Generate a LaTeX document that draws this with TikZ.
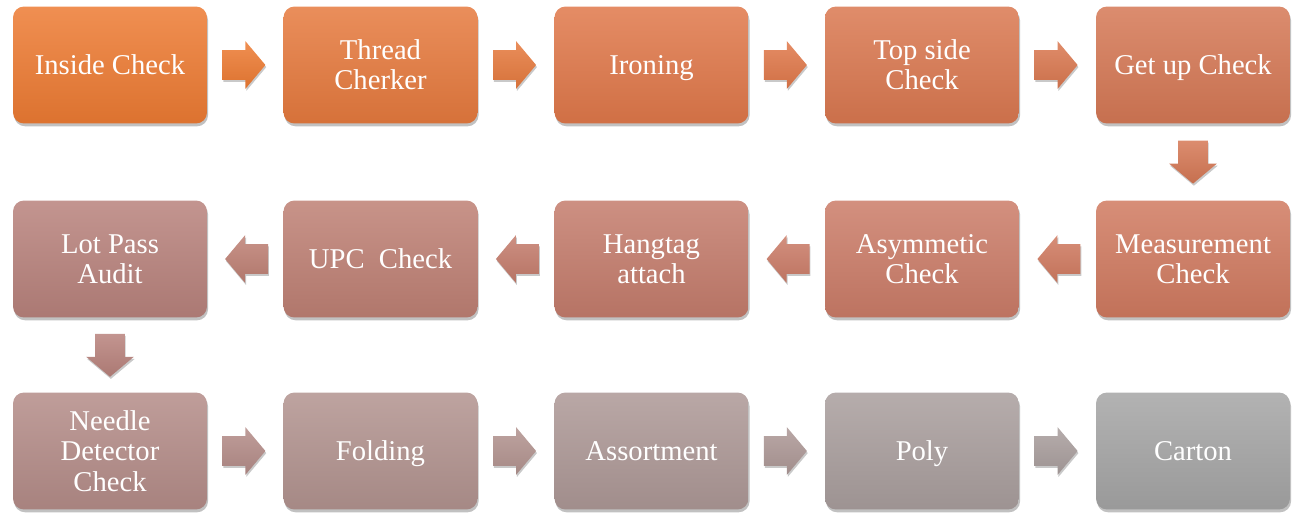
\documentclass[tikz,border=0pt]{standalone}
\usepackage{fontspec}
\setmainfont{Liberation Serif}
\usetikzlibrary{shapes.arrows,shadows,calc}

\definecolor{cInside}{HTML}{ED7B33}
\definecolor{cThread}{HTML}{E67A3E}
\definecolor{cIroning}{HTML}{E0784A}
\definecolor{cTopside}{HTML}{DA7850}
\definecolor{cGetup}{HTML}{D57855}
\definecolor{cMeasure}{HTML}{D07A60}
\definecolor{cAsym}{HTML}{CB7C68}
\definecolor{cHangtag}{HTML}{C47C6C}
\definecolor{cUpc}{HTML}{BE8074}
\definecolor{cLotpass}{HTML}{B8827C}
\definecolor{cNeedle}{HTML}{B48C88}
\definecolor{cFolding}{HTML}{B2938F}
\definecolor{cAssort}{HTML}{AD9896}
\definecolor{cPoly}{HTML}{A99E9D}
\definecolor{cCarton}{HTML}{A5A5A5}

\begin{document}
	\begin{tikzpicture}[
			x=0.02cm, y=-0.02cm,
			stepbox/.style={rectangle, rounded corners=0.22cm, minimum width=3.88cm, minimum height=2.34cm,
				align=center, text=white, font=\fontsize{16.3}{17.2}\selectfont,
				top color=#1!85!white, bottom color=#1!93!black,
				drop shadow={shadow xshift=0.6pt, shadow yshift=-1.6pt, opacity=0.35, fill=black!70}},
			oneline/.style={text height=11.3pt, text depth=0pt},
			flowarrow/.style={single arrow, single arrow head extend=0.18cm, single arrow tip angle=100,
				minimum width=0.94cm, minimum height=0.86cm, inner xsep=0pt, inner ysep=0.29cm,
				top color=#1!85!white, bottom color=#1!93!black,
				drop shadow={shadow xshift=0.5pt, shadow yshift=-1.2pt, opacity=0.3, fill=black!70}},
			toleft/.style={shape border rotate=180},
			todown/.style={shape border rotate=270, inner xsep=0.29cm, inner ysep=0pt}
		]
		\useasboundingbox (0,0) rectangle (1298,514);

		\node[stepbox=cInside, oneline] (inside) at (110,65) {Inside Check};
		\node[stepbox=cThread] (thread) at (380.5,65) {Thread\\Cherker};
		\node[stepbox=cIroning, oneline] (ironing) at (651.5,65) {Ironing};
		\node[stepbox=cTopside] (topside) at (922,65) {Top side\\Check};
		\node[stepbox=cGetup, oneline] (getup) at (1193,65) {Get up Check};

		\node[stepbox=cMeasure] (measure) at (1193,259) {Measurement\\Check};
		\node[stepbox=cAsym] (asym) at (922,259) {Asymmetic\\Check};
		\node[stepbox=cHangtag] (hangtag) at (651.5,259) {Hangtag\\attach};
		\node[stepbox=cUpc, oneline] (upc) at (380.5,259) {UPC\ \ Check};
		\node[stepbox=cLotpass] (lotpass) at (110,259) {Lot Pass\\Audit};

		\node[stepbox=cNeedle] (needle) at (110,451) {Needle\\Detector\\Check};
		\node[stepbox=cFolding, oneline] (folding) at (380.5,451) {Folding};
		\node[stepbox=cAssort, oneline] (assort) at (651.5,451) {Assortment};
		\node[stepbox=cPoly, oneline] (poly) at (922,451) {Poly};
		\node[stepbox=cCarton, oneline] (carton) at (1193,451) {Carton};

		\node[flowarrow=cInside] (a1) at ($(inside.east)!0.4!(thread.west)$) {};
		\node[flowarrow=cThread] (a2) at ($(thread.east)!0.4!(ironing.west)$) {};
		\node[flowarrow=cIroning] (a3) at ($(ironing.east)!0.4!(topside.west)$) {};
		\node[flowarrow=cTopside] (a4) at ($(topside.east)!0.4!(getup.west)$) {};
		\node[flowarrow=cGetup, todown] (a5) at ($(getup.south)!0.42!(measure.north)$) {};
		\node[flowarrow=cMeasure, toleft] (a6) at ($(measure.west)!0.4!(asym.east)$) {};
		\node[flowarrow=cAsym, toleft] (a7) at ($(asym.west)!0.4!(hangtag.east)$) {};
		\node[flowarrow=cHangtag, toleft] (a8) at ($(hangtag.west)!0.4!(upc.east)$) {};
		\node[flowarrow=cUpc, toleft] (a9) at ($(upc.west)!0.4!(lotpass.east)$) {};
		\node[flowarrow=cLotpass, todown] (a10) at ($(lotpass.south)!0.42!(needle.north)$) {};
		\node[flowarrow=cNeedle] (a11) at ($(needle.east)!0.4!(folding.west)$) {};
		\node[flowarrow=cFolding] (a12) at ($(folding.east)!0.4!(assort.west)$) {};
		\node[flowarrow=cAssort] (a13) at ($(assort.east)!0.4!(poly.west)$) {};
		\node[flowarrow=cPoly] (a14) at ($(poly.east)!0.4!(carton.west)$) {};
	\end{tikzpicture}
\end{document}
